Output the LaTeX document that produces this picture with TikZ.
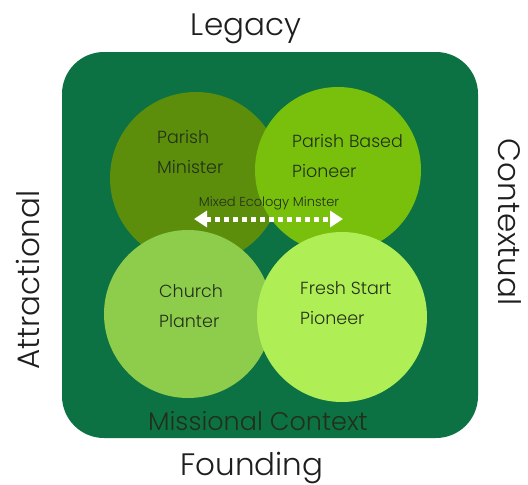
\documentclass[tikz,border=0pt]{standalone}
\usepackage{fontspec}
\setmainfont{Poppins}[UprightFont=* Light]
\usetikzlibrary{arrows.meta}
\definecolor{outerg}{RGB}{12,114,68}
\definecolor{pmg}{RGB}{92,142,12}
\definecolor{pbpg}{RGB}{120,192,12}
\definecolor{cpg}{RGB}{142,204,76}
\definecolor{fspg}{RGB}{176,238,86}
\definecolor{txtdark}{RGB}{34,48,24}
\definecolor{outtxt}{RGB}{30,30,30}
\tikzset{
  rolecircle/.style={circle, draw=none, inner sep=0pt},
  rolelabel/.style={align=left, anchor=north west, text=txtdark, font=\fontsize{17.5}{30}\selectfont, inner sep=0pt},
  sidelabel/.style={text=outtxt, font=\fontsize{31}{36}\selectfont, inner sep=0pt},
}
\begin{document}
\begin{tikzpicture}[x=1pt,y=-1pt]
\useasboundingbox (0,0) rectangle (528,485);
\fill[white] (0,0) rectangle (528,485);
\node[draw=none, fill=outerg, rounded corners=42pt, minimum width=416pt, minimum height=386pt, inner sep=0pt] (frame) at (270,245) {};
\node[rolecircle, fill=pmg, minimum size=172pt] (pm) at (196,178) {};
\node[rolecircle, fill=pbpg, minimum size=166pt] (pbp) at (338,170) {};
\node[rolecircle, fill=cpg, minimum size=168pt] (cp) at (188,314) {};
\node[rolecircle, fill=fspg, minimum size=170pt] (fsp) at (342,317) {};
\node[rolelabel] (pmt) at (157,130) {Parish\\Minister};
\node[rolelabel] (pbpt) at (292,134) {Parish Based\\Pioneer};
\node[rolelabel] (cpt) at (159,284) {Church\\Planter};
\node[rolelabel] (fspt) at (300,281) {Fresh Start\\Pioneer};
\node[text=txtdark, font=\fontsize{13}{15}\selectfont, inner sep=0pt] (mem) at (269,203) {Mixed Ecology Minster};
\coordinate (al) at (194,219);
\coordinate (ar) at (343,219);
\draw[white, line width=5pt, dash pattern=on 5pt off 4pt, {Triangle[length=13pt,width=16pt]}-{Triangle[length=13pt,width=16pt]}] (al) -- (ar);
\node[text=txtdark, font=\fontsize{25.5}{30}\selectfont, inner sep=0pt] (mc) at (258,421) {Missional Context};
\node[sidelabel] (leg) at (246,29) {Legacy};
\node[sidelabel] (fnd) at (252,468) {Founding};
\node[sidelabel, rotate=90] (att) at (28,280) {Attractional};
\node[sidelabel, rotate=-90] (ctx) at (510,222) {Contextual};
\end{tikzpicture}
\end{document}
